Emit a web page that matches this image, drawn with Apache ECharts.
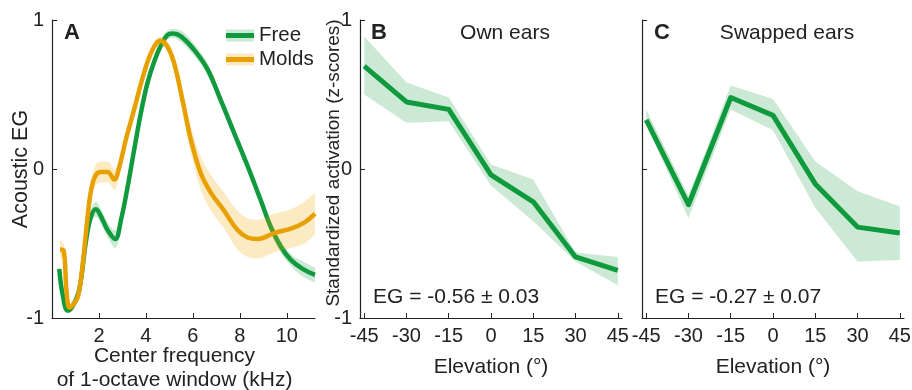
<!DOCTYPE html>
<html>
<head>
<meta charset="utf-8">
<script src="https://cdn.jsdelivr.net/npm/echarts@6/dist/echarts.min.js"></script>
<style>
  html, body { margin: 0; padding: 0; background: #fff; }
  #chart { width: 912px; height: 390px; }
</style>
</head>
<body>
<div id="chart"></div>
<script>
// Panel A: acoustic elevation gain per 1-octave window (kHz), mean and error band
const freeFreq  = [0.31, 0.45, 0.67, 0.88, 1.16, 1.45, 1.66, 1.87, 2.09, 2.37, 2.69, 2.94, 3.22, 3.5, 3.79, 4.07, 4.35, 4.64, 4.92, 5.16, 5.49, 6.05, 6.62, 7.19, 7.76, 8.33, 8.89, 9.32, 9.74, 10.17, 10.67, 11.2];
const freeMean  = [-0.67, -0.84, -0.95, -0.92, -0.81, -0.48, -0.32, -0.27, -0.32, -0.41, -0.47, -0.34, -0.12, 0.13, 0.38, 0.58, 0.72, 0.83, 0.90, 0.91, 0.89, 0.80, 0.67, 0.46, 0.24, 0.02, -0.21, -0.39, -0.52, -0.61, -0.67, -0.71];
const freeErr   = [0.03, 0.03, 0.02, 0.02, 0.02, 0.03, 0.04, 0.05, 0.05, 0.05, 0.06, 0.04, 0.03, 0.03, 0.03, 0.03, 0.03, 0.03, 0.03, 0.03, 0.04, 0.04, 0.04, 0.04, 0.04, 0.04, 0.04, 0.04, 0.04, 0.04, 0.05, 0.05];

const moldsFreq = [0.34, 0.5, 0.62, 0.75, 0.95, 1.12, 1.32, 1.53, 1.68, 1.87, 2.09, 2.37, 2.65, 2.86, 3.15, 3.5, 3.93, 4.28, 4.61, 4.92, 5.2, 5.56, 5.91, 6.34, 6.77, 7.33, 7.9, 8.33, 8.75, 9.46, 10.17, 10.74, 11.2];
const moldsMean = [-0.54, -0.55, -0.82, -0.93, -0.90, -0.85, -0.62, -0.30, -0.13, -0.04, -0.02, -0.02, -0.07, 0.01, 0.20, 0.40, 0.65, 0.80, 0.86, 0.82, 0.71, 0.46, 0.20, -0.03, -0.16, -0.28, -0.41, -0.46, -0.47, -0.43, -0.40, -0.36, -0.30];
const moldsErr  = [0.06, 0.05, 0.03, 0.02, 0.02, 0.03, 0.04, 0.05, 0.06, 0.07, 0.07, 0.07, 0.07, 0.05, 0.04, 0.03, 0.03, 0.03, 0.03, 0.04, 0.05, 0.07, 0.09, 0.11, 0.12, 0.12, 0.13, 0.13, 0.13, 0.13, 0.13, 0.14, 0.14];

const freqTicks = [2, 4, 6, 8, 10];

// Panels B and C: standardized activation by elevation
const elevations  = [-45, -30, -15, 0, 15, 30, 45];
const ownMean     = [0.69, 0.45, 0.40, -0.04, -0.22, -0.59, -0.68];
const ownLo       = [0.50, 0.31, 0.32, -0.11, -0.35, -0.62, -0.78];
const ownHi       = [0.89, 0.58, 0.48, 0.03, -0.07, -0.56, -0.59];
const swappedMean = [0.33, -0.24, 0.48, 0.36, -0.10, -0.39, -0.43];
const swappedLo   = [0.30, -0.33, 0.40, 0.26, -0.26, -0.62, -0.61];
const swappedHi   = [0.40, -0.18, 0.56, 0.47, 0.05, -0.15, -0.25];

const GREEN = '#109a3e';
const GREEN_BAND = '#cbe9d5';
const ORANGE = '#e8a000';
const ORANGE_BAND = 'rgba(240,168,0,0.24)';
const ORANGE_BAND_SOLID = '#fbe8c2';
const INK = '#222';
const FONT = 'Liberation Sans';

const chart = echarts.init(document.getElementById('chart'), null, { renderer: 'canvas' });

// rows are [value, x] so the stacked dimension is the y value (stacked by index)
function rows(xs, ys) { return xs.map((x, i) => [ys[i], x]); }

// lower edge (invisible) + band height stacked on it
function bandSeries(id, xs, lo, hi, color, xi, smooth, z) {
  const common = {
    type: 'line', xAxisIndex: xi, yAxisIndex: xi, stack: id, stackStrategy: 'all',
    encode: { x: 1, y: 0 },
    symbol: 'none', smooth: smooth, silent: true, z: z,
    lineStyle: { width: 0, opacity: 0 }
  };
  return [
    Object.assign({}, common, { name: id + ' lo', data: rows(xs, lo) }),
    Object.assign({}, common, {
      name: id, data: rows(xs, xs.map((x, i) => hi[i] - lo[i])),
      areaStyle: { color: color, opacity: 1 }
    })
  ];
}

function lineSeries(name, xs, ys, color, xi, smooth, width, z) {
  return {
    name: name, type: 'line', xAxisIndex: xi, yAxisIndex: xi,
    encode: { x: 1, y: 0 },
    data: rows(xs, ys), symbol: 'none', smooth: smooth, z: z,
    lineStyle: { color: color, width: width, join: 'round', cap: 'butt' },
    itemStyle: { color: color }
  };
}

const freeLo = freeMean.map((m, i) => m - freeErr[i]);
const freeHi = freeMean.map((m, i) => m + freeErr[i]);
const moldsLo = moldsMean.map((m, i) => m - moldsErr[i]);
const moldsHi = moldsMean.map((m, i) => m + moldsErr[i]);

const tickStyle = { show: true, inside: true, length: 5, lineStyle: { color: INK, width: 1 } };
const lineAxis = { show: true, onZero: false, lineStyle: { color: INK, width: 1.2 } };
const labelFont = { color: INK, fontFamily: FONT, fontSize: 20 };
const nameFont = { color: INK, fontFamily: FONT, fontSize: 21 };

function yAxisFor(gi, showLabels, name, gap, size, pad) {
  return {
    type: 'value', gridIndex: gi, min: -1, max: 1, interval: 1,
    axisLine: lineAxis, axisTick: tickStyle, splitLine: { show: false },
    axisLabel: Object.assign({ show: showLabels, margin: 8 }, labelFont),
    name: name, nameLocation: 'middle', nameGap: gap, nameMoveOverlap: false,
    nameTextStyle: Object.assign({}, nameFont, { fontSize: size, padding: pad || 0 })
  };
}

function elevAxis(gi) {
  return {
    type: 'value', gridIndex: gi, min: -46.5, max: 46.5,
    axisLine: lineAxis,
    axisTick: Object.assign({}, tickStyle, { customValues: elevations }),
    axisLabel: Object.assign({ margin: 8, customValues: elevations }, labelFont),
    splitLine: { show: false },
    name: 'Elevation (°)', nameLocation: 'middle', nameGap: 39, nameMoveOverlap: false,
    nameTextStyle: nameFont
  };
}

function label(text, x, y, font, align) {
  return { type: 'text', x: x, y: y, z: 100,
    style: { text: text, font: font, fill: INK, align: align || 'center', verticalAlign: 'middle' } };
}

const option = {
  backgroundColor: '#fff',
  animation: false,
  grid: [
    { left: 52, top: 20, width: 263, height: 298, outerBoundsMode: 'none', containLabel: false },
    { left: 360, top: 20, width: 262, height: 298, outerBoundsMode: 'none', containLabel: false },
    { left: 642, top: 20, width: 262, height: 298, outerBoundsMode: 'none', containLabel: false }
  ],
  xAxis: [
    {
      type: 'value', gridIndex: 0, min: 0, max: 11.2,
      axisLine: lineAxis,
      axisTick: Object.assign({}, tickStyle, { customValues: freqTicks }),
      axisLabel: Object.assign({ margin: 8, customValues: freqTicks }, labelFont),
      splitLine: { show: false },
      name: 'Center frequency\nof 1-octave window (kHz)', nameLocation: 'middle', nameGap: 26,
      nameMoveOverlap: false,
      nameTextStyle: Object.assign({}, nameFont, { lineHeight: 24, verticalAlign: 'top', padding: [0, 18, 0, 0] })
    },
    elevAxis(1),
    elevAxis(2)
  ],
  yAxis: [
    yAxisFor(0, true, 'Acoustic EG', 20, 21.5),
    yAxisFor(1, true, 'Standardized activation (z-scores)', 17, 19, [0, 0, 0, 12]),
    yAxisFor(2, false, '', 0, 18)
  ],
  legend: [
    {
      orient: 'vertical', left: 226, top: 25, padding: 0, itemWidth: 28, itemHeight: 12, itemGap: 3,
      selectedMode: false,
      textStyle: { color: 'rgba(0,0,0,0)', fontFamily: FONT, fontSize: 20.5, lineHeight: 20 },
      data: [
        { name: 'Free band', icon: 'rect', itemStyle: { color: GREEN_BAND, opacity: 1 } },
        { name: 'Molds band', icon: 'rect', itemStyle: { color: ORANGE_BAND_SOLID, opacity: 1 } }
      ]
    },
    {
      orient: 'vertical', left: 226, top: 25, padding: 0, itemWidth: 28, itemHeight: 5, itemGap: 3,
      selectedMode: false,
      textStyle: { color: INK, fontFamily: FONT, fontSize: 20.5, lineHeight: 20 },
      data: [
        { name: 'Free', icon: 'rect', itemStyle: { color: GREEN } },
        { name: 'Molds', icon: 'rect', itemStyle: { color: ORANGE } }
      ]
    }
  ],
  graphic: [
    label('A', 72, 33, 'bold 22px "Liberation Sans"'),
    label('B', 379, 33, 'bold 22px "Liberation Sans"'),
    label('C', 662, 33, 'bold 22px "Liberation Sans"'),
    label('Own ears', 505, 33, '21px "Liberation Sans"'),
    label('Swapped ears', 787, 33, '21px "Liberation Sans"'),
    label('EG = -0.56 ± 0.03', 373, 297, '21px "Liberation Sans"', 'left'),
    label('EG = -0.27 ± 0.07', 655, 297, '21px "Liberation Sans"', 'left')
  ],
  series: [].concat(
    bandSeries('Free band', freeFreq, freeLo, freeHi, GREEN_BAND, 0, 0.4, 1),
    [lineSeries('Free', freeFreq, freeMean, GREEN, 0, 0.4, 4.5, 2)],
    bandSeries('Molds band', moldsFreq, moldsLo, moldsHi, ORANGE_BAND, 0, 0.4, 3),
    [lineSeries('Molds', moldsFreq, moldsMean, ORANGE, 0, 0.4, 4.5, 4)],
    bandSeries('Own band', elevations, ownLo, ownHi, GREEN_BAND, 1, false, 1),
    [lineSeries('Own ears', elevations, ownMean, GREEN, 1, false, 5, 2)],
    bandSeries('Swapped band', elevations, swappedLo, swappedHi, GREEN_BAND, 2, false, 1),
    [lineSeries('Swapped ears', elevations, swappedMean, GREEN, 2, false, 5, 2)]
  )
};

chart.setOption(option);
</script>
</body>
</html>
